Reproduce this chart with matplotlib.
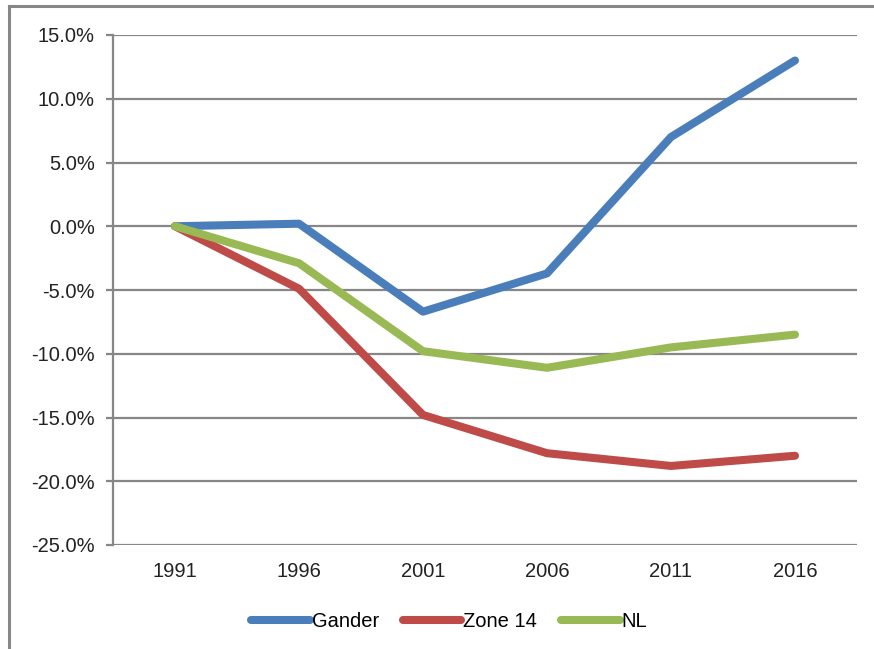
import numpy as np
import matplotlib
matplotlib.use("Agg")
import matplotlib.pyplot as plt
from matplotlib.lines import Line2D

plt.rcParams['font.family'] = ['Liberation Sans', 'DejaVu Sans']

years = ["1991", "1996", "2001", "2006", "2011", "2016"]
gander = [0.0, 0.2, -6.7, -3.7, 7.0, 13.0]
zone14 = [0.0, -4.9, -14.8, -17.8, -18.8, -18.0]
nl = [0.0, -2.9, -9.8, -11.1, -9.5, -8.5]

fig = plt.figure(figsize=(8.74, 6.49), dpi=100)
ax = fig.add_axes([113/874, 1 - 545/649, (857 - 113)/874, (545 - 35)/649])

x = np.arange(len(years))
ax.plot(x, gander, color="#4A7EBB", lw=5.8, solid_capstyle="round", solid_joinstyle="round", label="Gander")
ax.plot(x, zone14, color="#BE4B48", lw=5.8, solid_capstyle="round", solid_joinstyle="round", label="Zone 14")
ax.plot(x, nl, color="#98B954", lw=5.8, solid_capstyle="round", solid_joinstyle="round", label="NL")

ax.set_xlim(-0.5, 5.5)
ax.set_ylim(-25, 15)
ax.set_yticks(np.arange(-25, 16, 5))
ax.set_yticklabels(["%.1f%%" % v for v in np.arange(-25, 16, 5)])
ax.set_xticks(x)
ax.set_xticklabels(years)

grey = "#878787"
ax.grid(axis="y", color=grey, lw=1.6)
ax.set_axisbelow(True)
for s in ["top", "right", "bottom"]:
    ax.spines[s].set_visible(False)
ax.spines["left"].set_color(grey)
ax.spines["left"].set_linewidth(1.6)
ax.tick_params(axis="y", length=5, width=1.6, color=grey, labelsize=14.5, pad=8, labelcolor="#222222")
ax.tick_params(axis="x", length=0, labelsize=14.5, pad=12, labelcolor="#222222")

ax.legend(loc="upper center", bbox_to_anchor=(0.452, -0.095), ncol=3, frameon=False,
          fontsize=14.5, handlelength=2.9, handletextpad=0.1, columnspacing=1.2)

# outer chart frame (left and top edges)
fig.add_artist(Line2D([9/874, 9/874], [0, 1 - 6/649], color=grey, lw=2.2))
fig.add_artist(Line2D([9/874, 1], [1 - 6/649, 1 - 6/649], color=grey, lw=2.2))

fig.savefig("out.png", dpi=100)
